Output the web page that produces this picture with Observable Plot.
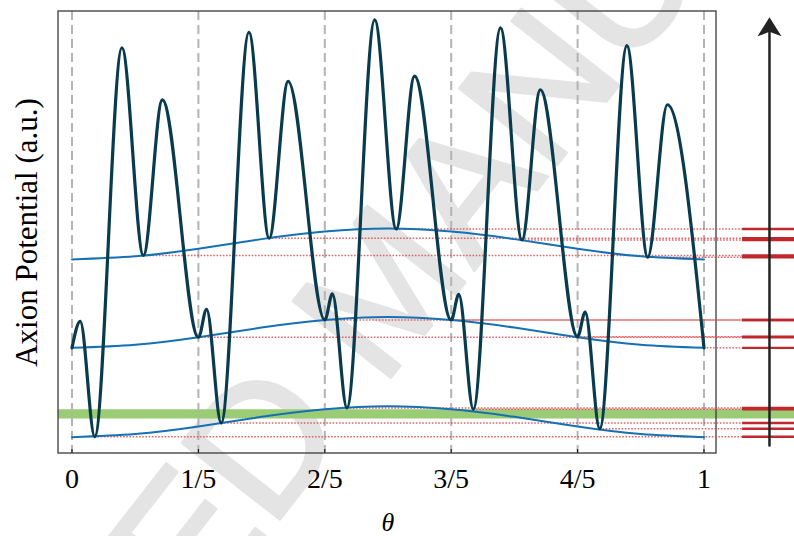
<!DOCTYPE html>
<html>
<head>
<meta charset="utf-8">
<script src="https://cdn.jsdelivr.net/npm/d3@7"></script>
<script src="https://cdn.jsdelivr.net/npm/@observablehq/plot@0.6"></script>
<style>
  html, body { margin: 0; padding: 0; background: #fff; }
  #chart svg { display: block; }
</style>
</head>
<body>
<div id="chart"></div>
<script>
// ---- data (theta in units of 2π, potential in arbitrary units 0..100) ----
const thetaPts = [
  0.000, 0.013, 0.036, 0.079, 0.113, 0.143, 0.200,
  0.213, 0.236, 0.280, 0.312, 0.342, 0.400,
  0.412, 0.435, 0.479, 0.513, 0.542, 0.600,
  0.612, 0.635, 0.678, 0.712, 0.741, 0.800,
  0.812, 0.835, 0.878, 0.911, 0.942, 1.000
];
const potentialPts = [
  23.9, 29.9, 3.8, 91.8, 44.8, 80.0, 26.3,
  32.6, 6.9, 95.3, 48.7, 84.2, 30.2,
  36.1, 10.3, 98.1, 50.8, 85.4, 30.2,
  36.0, 10.0, 96.3, 48.3, 82.3, 26.4,
  32.0, 5.6, 92.3, 44.4, 78.9, 23.9
];
// M = minimum on middle branch, B = small bump, D = deep minimum, P = peak, T = minimum on top branch
const extremumKind = [
  "M", "B", "D", "P", "T", "P", "M",
  "B", "D", "P", "T", "P", "M",
  "B", "D", "P", "T", "P", "M",
  "B", "D", "P", "T", "P", "M",
  "B", "D", "P", "T", "P", "M"
];

// three smooth branches (blue)
const branchTheta = [0, 0.1, 0.2, 0.3, 0.4, 0.5, 0.6, 0.7, 0.8, 0.9, 1.0];
const branchTop    = [43.9, 44.6, 46.3, 48.5, 50.2, 50.9, 50.2, 48.5, 46.3, 44.6, 43.9];
const branchMiddle = [23.9, 24.6, 26.3, 28.5, 30.2, 30.9, 30.2, 28.5, 26.3, 24.6, 23.9];
const branchBottom = [3.7, 4.4, 6.1, 8.3, 10.0, 10.7, 10.0, 8.3, 6.1, 4.4, 3.7];

const xTicks = [0, 0.2, 0.4, 0.6, 0.8, 1];
const xTickLabels = ["0", "1/5", "2/5", "3/5", "4/5", "1"];

const greenBand = [{lo: 7.8, hi: 9.9}];

const yLabel = "Axion Potential (a.u.)";
const xLabel = "θ";
const watermark = "ACCEPTED MANUSCRIPT";

// layout constants (in theta units)
const xDomain = [-0.02136, 1.1432];
const frameRight = 1.0198;
const ladderStart = 1.061;
const arrowShaft = [{theta: 1.1036, v: 1.8}, {theta: 1.1036, v: 95.4}];

// ---- tables ----
const potential = thetaPts.map((t, i) => ({theta: t, v: potentialPts[i], kind: extremumKind[i]}));
const minima = potential.filter(d => (d.kind === "D" || d.kind === "T" || d.kind === "M") && d.theta > 0);
const branches = [branchTop, branchMiddle, branchBottom].flatMap((arr, k) =>
  arr.map((v, i) => ({theta: branchTheta[i], v, branch: k})));

const stealth = {
  draw(context, size) {
    const s = Math.sqrt(size / Math.PI) / 12;
    context.moveTo(0, -14.5 * s);
    context.lineTo(12 * s, 4.5 * s);
    context.lineTo(0, 0);
    context.lineTo(-12 * s, 4.5 * s);
    context.closePath();
  }
};

const serif = "'Liberation Serif', 'DejaVu Serif', serif";

const chart = Plot.plot({
  width: 794,
  height: 536,
  marginLeft: 58,
  marginRight: 0,
  marginTop: 11,
  marginBottom: 83,
  x: {domain: xDomain, axis: null},
  y: {domain: [0, 100], axis: null},
  style: {fontFamily: serif, fontSize: "28px", background: "#fff"},
  marks: [
    // watermark
    Plot.text([watermark], {
      frameAnchor: "top-left", dx: 327, dy: 279, rotate: -52,
      fontSize: 180, fontWeight: "normal", fontFamily: "'Liberation Sans', Arial, sans-serif",
      fill: "#e4e4e4", stroke: "#e4e4e4", strokeWidth: 3, textAnchor: "middle", lineAnchor: "middle"
    }),
    // green band
    Plot.rect(greenBand, {y1: "lo", y2: "hi", fill: "#9acb75"}),
    // dashed verticals
    Plot.ruleX(xTicks, {stroke: "#b4b4b4", strokeWidth: 2, strokeDasharray: "9,5"}),
    // inward ticks
    Plot.ruleX(xTicks, {stroke: "#000", strokeWidth: 1, insetTop: 438}),
    // frame
    Plot.rect([0], {x1: xDomain[0], x2: frameRight, y1: 0, y2: 100, fill: "none", stroke: "#3a3a3a", strokeWidth: 1.3}),
    // red dotted levels
    Plot.ruleY(minima, {y: "v", x1: "theta", x2: ladderStart, stroke: "#dd4b4b", strokeOpacity: 0.85, strokeWidth: 1.5, strokeDasharray: "1.6,1.6"}),
    // red solid levels
    Plot.ruleY(minima, {y: "v", x1: ladderStart, x2: xDomain[1], stroke: "#c0282d", strokeWidth: 2.4}),
    // blue branches
    Plot.line(branches, {x: "theta", y: "v", z: "branch", curve: "natural", stroke: "#1570b5", strokeWidth: 2}),
    // potential
    Plot.line(potential, {x: "theta", y: "v", curve: "monotone-x", stroke: "#093b4e", strokeWidth: 3.2, strokeLinejoin: "round"}),
    // arrow
    Plot.line(arrowShaft, {x: "theta", y: "v", stroke: "#222", strokeWidth: 2.5}),
    Plot.dot(arrowShaft.slice(1), {x: "theta", y: "v", symbol: stealth, r: 12, fill: "#222", stroke: "none"}),
    // axis
    Plot.axisX(xTicks, {
      tickFormat: d => xTickLabels[xTicks.indexOf(d)],
      tickSize: 0, tickPadding: 15, fontSize: 28, fontFamily: serif, fill: "#000", label: null
    }),
    Plot.text([xLabel], {x: 0.5, frameAnchor: "bottom", dy: 69, fontSize: 26, fontStyle: "italic", fontFamily: serif, fill: "#000", lineAnchor: "middle"}),
    Plot.text([yLabel], {frameAnchor: "left", dx: -31, rotate: -90, fontSize: 31, fontFamily: serif, fill: "#000", textAnchor: "middle", lineAnchor: "middle"})
  ]
});
document.getElementById("chart").appendChild(chart);
</script>
</body>
</html>
